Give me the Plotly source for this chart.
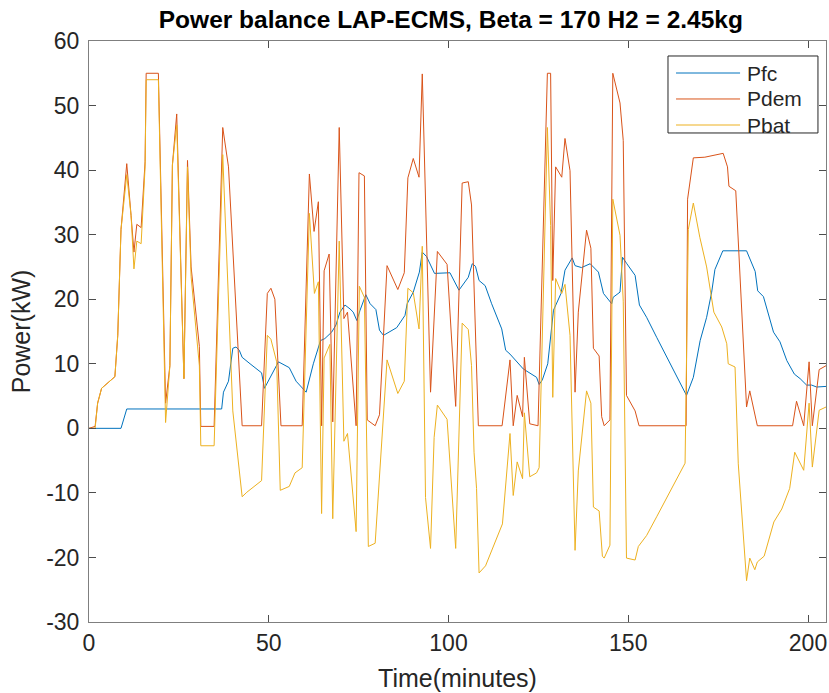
import plotly.graph_objects as go

# ---- Data (time in minutes, power in kW) ----
t_pfc = [0, 8.9, 10.5, 36.9, 37.4, 38.8, 40.0, 40.9, 41.8, 42.6, 44.8, 48.0, 48.8, 50.8, 52.7, 55.7,
         57.6, 60.4, 62.4, 64.4, 65.6, 67.5, 68.7, 69.8, 71.2, 72.6, 73.5, 74.5, 75.4, 77.0, 78.2,
         79.8, 80.8, 81.9, 85.6, 87.9, 88.5, 90.2, 91.9, 92.7, 93.9, 96.1, 100.4, 102.9, 105.5,
         106.6, 107.5, 108.5, 110.2, 112.0, 114.8, 115.9, 117.1, 120.8, 124.5, 125.2, 126.1,
         127.6, 129.2, 131.3, 132.4, 134.4, 135.2, 137.0, 139.4, 141.7, 143.1, 145.4, 145.8,
         147.7, 148.4, 149.6, 151.9, 153.1, 155.1, 157.9, 166.2, 168.1, 170.0, 171.8, 173.2,
         174.1, 176.3, 182.9, 185.3, 186.0, 187.6, 190.4, 192.2, 194.1, 196.2, 197.8, 199.6,
         201.0, 202.4, 205.2]
p_fc = [0, 0, 3, 3, 5.6, 7.3, 12.4, 12.6, 12.1, 11.0, 10.0, 8.6, 6.2, 8.3, 10.3, 9.4,
        7.3, 5.6, 10.0, 13.6, 13.9, 14.9, 16.0, 18.0, 19.1, 18.5, 18.0, 16.7, 18.3, 20.7, 19.3,
        18.4, 15.2, 14.4, 15.6, 17.5, 19.3, 21.1, 24.2, 27.3, 26.6, 24.0, 24.1, 21.4, 23.4,
        25.5, 25.1, 22.9, 22.1, 19.3, 15.4, 12.1, 11.5, 9.2, 7.9, 6.8, 7.5,
        10.0, 18.3, 20.9, 24.5, 26.4, 25.2, 24.9, 25.5, 24.2, 20.9, 19.3, 20.3,
        21.1, 26.5, 25.5, 23.7, 19.1, 17.2, 14.1, 5.1, 7.9, 13.6, 17.2, 21.1,
        24.6, 27.5, 27.5, 24.3, 21.3, 20.4, 14.9, 13.4, 10.5, 8.4, 7.7, 6.7,
        6.7, 6.4, 6.5]

t_dem = [0, 1.7, 2.4, 3.5, 7.2, 8.0, 8.9, 10.5, 11.7, 12.5, 13.3, 14.5, 15.6, 15.9, 19.3,
         21.3, 22.5, 23.2, 24.4, 26.4, 27.4, 28.4, 30.7, 31.1, 34.8, 37.2, 38.8, 42.6, 48.0,
         49.6, 50.6, 51.7, 53.4, 59.3, 61.3, 62.6, 63.8, 64.7, 65.4, 66.8, 67.8, 69.6, 70.9,
         71.9, 74.3, 75.1, 76.6, 77.4, 79.6, 80.8, 82.9, 85.9, 87.7, 88.7, 90.2, 91.8, 92.7,
         95.0, 96.9, 99.6, 102.0, 103.8, 105.5, 106.4, 108.3, 114.9, 117.1, 118.0, 119.1,
         120.6, 121.1, 122.6, 124.9, 127.5, 128.4, 129.0, 129.8, 131.5, 132.4, 133.8, 135.2,
         136.1, 138.4, 139.6, 140.3, 141.9, 142.6, 143.3, 144.9, 145.7, 147.7, 148.6, 149.5,
         151.9, 153.0, 166.1, 166.5, 168.1, 171.3, 175.8, 176.4, 177.6, 178.0, 179.9, 182.9,
         183.8, 185.9, 195.7, 196.8, 198.8, 200.3, 201.2, 203.1, 205.0]
p_dem = [0, 0.3, 3.9, 6.2, 8.0, 14.4, 30.8, 41.0, 33.0, 27.3, 31.6, 31.1, 41.3, 55.0, 55.0,
         3.9, 9.7, 40.8, 48.7, 7.7, 41.5, 25.0, 12.7, 0.3, 0.3, 46.6, 40.5, 0.4, 0.4,
         20.9, 21.7, 20.0, 0.4, 0.4, 39.4, 30.5, 35.1, 0.4, 24.4, 27.0, 1.0, 46.6, 17.0,
         18.0, 0.4, 39.6, 39.1, 1.3, 0.4, 2.1, 25.2, 21.5, 24.1, 38.8, 41.8, 38.9, 54.9,
         5.6, 27.4, 25.4, 3.4, 38.0, 38.2, 34.6, 0.4, 0.4, 10.6, 0.4, 5.1,
         1.8, 11.0, 0.7, 0.4, 55.0, 55.0, 22.9, 40.5, 38.9, 44.9, 39.9, 5.6,
         18.0, 30.7, 27.9, 12.4, 11.2, 1.8, 0.4, 1.3, 55.0, 50.4, 44.6, 5.1,
         2.7, 0.4, 0.4, 35.5, 41.9, 42.0, 42.5, 42.6, 40.5, 37.5, 36.8, 3.3,
         5.8, 0.4, 0.4, 4.2, 0.4, 10.3, 0.4, 9.1, 9.7]

t_bat = [0, 1.7, 2.4, 3.5, 7.2, 8.0, 8.9, 10.5, 11.7, 12.5, 13.3, 14.5, 15.6, 15.9, 19.3,
         21.3, 22.5, 23.2, 24.4, 26.4, 27.4, 28.4, 30.7, 31.1, 34.8, 37.2, 40.0, 42.6, 43.9,
         48.0, 49.6, 50.6, 52.2, 53.2, 55.7, 57.3, 59.3, 61.3, 62.7, 63.8, 64.7, 65.4, 67.0,
         67.8, 69.6, 70.9, 71.9, 74.3, 75.2, 76.6, 77.7, 79.6, 82.9, 85.9, 87.7, 88.7, 90.2,
         91.8, 92.7, 93.6, 95.0, 96.0, 96.9, 99.6, 102.0, 103.8, 105.5, 106.4, 107.1, 107.8,
         108.5, 110.3, 115.0, 117.1, 118.0, 119.1, 120.6, 121.1, 122.6, 124.5, 125.2, 127.5,
         128.4, 129.0, 129.8, 131.5, 132.4, 133.8, 135.2, 136.1, 138.4, 139.6, 140.3, 141.9,
         142.8, 143.3, 144.9, 145.7, 147.7, 148.6, 149.5, 151.9, 152.8, 155.1, 157.9, 161.6,
         165.8, 166.7, 168.1, 169.9, 171.8, 173.8, 176.0, 177.4, 177.8, 179.7, 180.6, 182.9,
         183.8, 185.2, 185.9, 187.8, 190.5, 192.7, 194.9, 196.3, 198.8, 200.3, 201.2, 203.1,
         205.0]
p_bat = [0, 0, 3.9, 6.2, 8.0, 14.4, 30.8, 39.3, 33.0, 24.7, 29.0, 28.6, 40.5, 54.0, 54.0,
         0.9, 9.7, 40.8, 47.0, 7.7, 40.5, 23.5, 9.7, -2.7, -2.7, 42.4, 2.7, -10.6, -9.9,
         -8.1, 14.4, 13.8, 10.3, -9.6, -9.0, -6.9, -6.1, 33.3, 20.9, 22.7, -13.2, 10.9, 13.0,
         -14.0, 29.0, -2.0, -0.8, -16.0, 22.0, 20.3, -18.3, -17.8, 10.6, 5.4, 7.3, 21.7, 21.0,
         15.4, 28.2, -10.7, -18.6, -1.4, 3.6, 1.4, -18.6, 16.3, 15.3, 9.7, -3.7, -9.3,
         -22.4, -21.3, -14.8, -0.8, -10.4, -5.2, -7.8, 2.4, -7.5, -6.9, -6.1, 46.6,
         31.4, 4.8, 23.2, 20.9, 22.3, 14.4, -18.9, -6.6, 5.8, 3.9, -12.2, -12.8,
         -19.8, -20.1, -18.1, 35.5, 29.9, 19.7, -20.1, -20.4, -18.3, -16.6, -13.7, -9.9,
         -5.4, 30.8, 34.9, 29.6, 25.0, 18.0, 15.7, 13.1, 10.0, 9.5, -5.5, -23.6,
         -20.1, -21.9, -20.7, -19.8, -14.5, -12.5, -9.3, -3.7, -6.5, 3.9, -6.0, 2.8,
         3.3]

series_names = ["Pfc", "Pdem", "Pbat"]
series_colors = ["#0072BD", "#D95319", "#EDB120"]

x_ticks = [0, 50, 100, 150, 200]
y_ticks = [-30, -20, -10, 0, 10, 20, 30, 40, 50, 60]
y_tick_labels = [str(v) for v in y_ticks]  # plain hyphen-minus as in the reference

FONT = "Liberation Sans, Arial, sans-serif"
AX = "#262626"

W, H = 829, 693

fig = go.Figure()
for tx, ty, nm, col in [(t_pfc, p_fc, series_names[0], series_colors[0]),
                        (t_dem, p_dem, series_names[1], series_colors[1]),
                        (t_bat, p_bat, series_names[2], series_colors[2])]:
    fig.add_trace(go.Scatter(x=tx, y=ty, mode="lines", name=nm, showlegend=False,
                             line=dict(color=col, width=1)))

axis_common = dict(showgrid=False, zeroline=False, showline=True, mirror="ticks",
                   linecolor="#7f7f7f", linewidth=1, ticks="inside", ticklen=7,
                   tickcolor="#4d4d4d", automargin=False,
                   tickfont=dict(family=FONT, size=23, color=AX))

fig.update_xaxes(range=[0, 205], tickvals=x_ticks, ticktext=[str(v) for v in x_ticks],
                 title=dict(text="Time(minutes)", font=dict(family=FONT, size=25, color=AX),
                            standoff=14),
                 **axis_common)
fig.update_yaxes(range=[-30, 60], tickvals=y_ticks, ticktext=y_tick_labels,
                 ticklabelstandoff=4,
                 title=dict(text="Power(kW)", font=dict(family=FONT, size=25, color=AX),
                            standoff=8),
                 **axis_common)

# Legend box (MATLAB style: long line samples, black frame)
lg_x0, lg_x1, lg_y0, lg_y1 = 0.7856, 0.9891, 0.8417, 0.9742
row_y = [0.9449, 0.9002, 0.8554]
fig.add_shape(type="rect", xref="paper", yref="paper", x0=lg_x0, x1=lg_x1, y0=lg_y0, y1=lg_y1,
              line=dict(color="#262626", width=1), fillcolor="white", layer="above")
for nm, col, yy in zip(series_names, series_colors, row_y):
    fig.add_shape(type="line", xref="paper", yref="paper", x0=0.7965, x1=0.8834, y0=yy, y1=yy,
                  line=dict(color=col, width=1), layer="above")
    fig.add_annotation(xref="paper", yref="paper", x=0.8895, y=yy, text=nm, showarrow=False,
                       xanchor="left", yanchor="middle",
                       font=dict(family=FONT, size=21, color=AX))

fig.update_layout(
    width=W, height=H,
    margin=dict(l=89, r=3, t=41, b=71, autoexpand=False),
    paper_bgcolor="white", plot_bgcolor="white",
    title=dict(text="<b>Power balance LAP-ECMS, Beta = 170 H2 = 2.45kg</b>",
               font=dict(family=FONT, size=24.5, color="#000000"),
               x=0.491, xref="paper", xanchor="center",
               y=1 - 19 / H, yref="container", yanchor="middle"),
    showlegend=False,
)

# Remove the browser's default 8px body margin so the figure fills the window exactly.
fig.write_html("out.html",
               config={"displayModeBar": False},
               post_script="document.body.style.margin='0';document.body.style.overflow='hidden';")
